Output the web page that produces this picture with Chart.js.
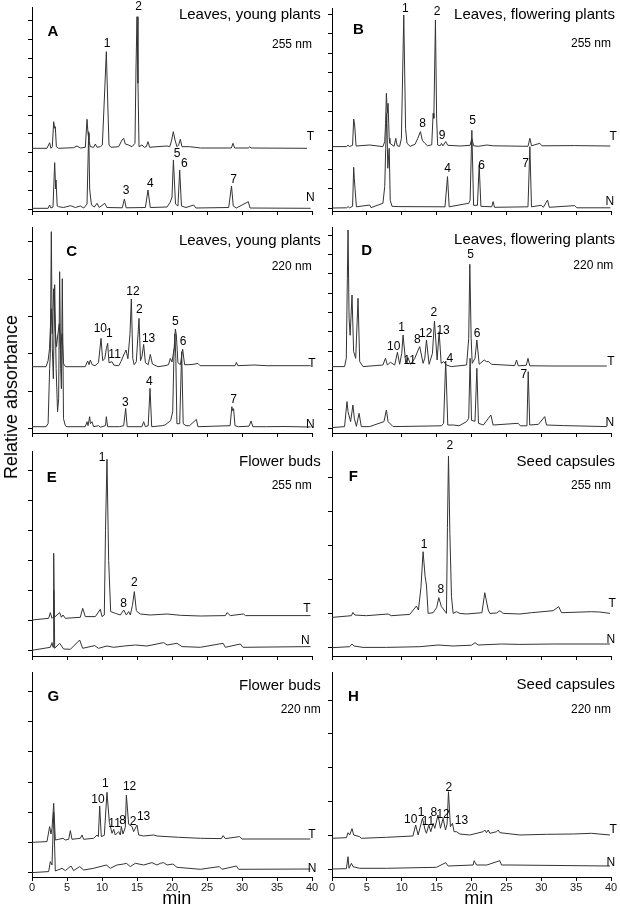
<!DOCTYPE html>
<html>
<head>
<meta charset="utf-8">
<script src="https://cdn.jsdelivr.net/npm/chart.js@4.4.1/dist/chart.umd.min.js"></script>
<style>
  html, body { margin: 0; padding: 0; background: #fff; }
  #fig { position: relative; width: 620px; height: 910px; overflow: hidden;
         font-family: "Liberation Sans", Arial, sans-serif; color: #000; }
  #fig canvas { position: absolute; }
  .txt { position: absolute; white-space: nowrap; line-height: 1; }
</style>
</head>
<body>
<div id="fig"></div>
<script>
// retention time axis (min)
const timeTicks = [0, 5, 10, 15, 20, 25, 30, 35, 40];
const timeTickLabels = ['0', '5', '10', '15', '20', '25', '30', '35', '40'];

// traces: [time (min), relative absorbance (arb. units)]
// T = treated, N = not treated

// A - leaves, young plants, 255 nm
const aT = [[0,60.7],[2.14,60.7],[2.52,66.3],[2.71,60.7],[2.9,62.3],[3.1,87.3],[3.24,80.7],[3.33,82.3],[3.48,62.3],[3.81,60.7],
  [5.95,61.3],[6.43,63],[6.9,61],[7.62,61.7],[7.86,89.7],[8.0,75.7],[8.14,69],[8.33,62.3],[8.8,61.7],[9.05,65],[9.29,61.7],
  [9.76,62.3],[10.05,64],[10.33,109],[10.62,157.3],[10.81,109],[11.0,64],[11.29,61.7],[12.38,62.3],[12.86,69],[13.1,70.7],
  [13.33,65],[13.81,64],[14.29,62.3],[14.71,65.7],[14.86,142],[15.0,192.3],[15.14,125.7],[15.29,62.3],[15.71,64],[16.05,61.7],
  [16.33,62.3],[16.57,67.3],[16.81,61.7],[17.86,62.3],[19.29,63],[19.67,62.3],[19.9,67.3],[20.19,77.3],[20.43,69],[20.71,62.3],
  [20.95,64],[21.19,69.7],[21.43,62.3],[22.48,62.3],[23.29,61.7],[24.05,61],[28.48,61],[28.71,65.7],[28.95,61],[30.95,61],
  [31.1,62.3],[31.29,61],[39.29,60.7]];
const aN = [[0,0.7],[2.3,0.7],[2.52,4],[2.7,1],[3.0,2],[3.24,46.3],[3.38,20],[3.43,29],[3.6,3],[3.81,2.3],[4.5,1.5],[5.5,3.3],
  [6.2,1.5],[6.9,3],[7.4,1],[7.86,5],[8.1,77.3],[8.24,20],[8.33,14],[8.5,4],[8.9,2],[9.3,5.7],[9.6,1.5],[10.4,5.7],[10.7,1.5],
  [12.9,1.2],[13.2,10],[13.45,1.2],[16.2,1.5],[16.57,19],[16.9,1.5],[19.3,2],[19.76,7],[20.0,12],[20.2,49],[20.5,5],[20.85,3],
  [21.1,39],[21.35,3],[22.0,1.5],[23.1,4],[23.4,1],[28.1,1.5],[28.5,23],[28.75,3],[29.2,1],[30.9,7.3],[31.15,1],[39.8,0.7]];
const aLabels = [['1',10.71,165.7],['2',15.23,202.3],['3',13.43,18.3],['4',16.9,25.7],['5',20.71,55],['6',21.76,45.7],
  ['7',28.8,29],['T',39.76,72.3],['N',39.76,11.7]];

// B - leaves, flowering plants, 255 nm
const bT = [[0.1,61.7],[2.1,61.7],[2.3,63.3],[2.5,61.7],[2.95,63],[3.11,89.3],[3.25,83.3],[3.45,62.3],[5.4,63.3],[7.3,61.7],
  [7.56,66.7],[7.68,85],[7.8,115],[7.92,95],[8.04,105],[8.2,70],[8.3,65],[8.9,62],[9.14,70],[9.35,62.5],[9.7,62],[9.95,70],
  [10.29,193.3],[10.55,80],[10.75,65],[11.2,62],[11.9,64],[12.3,70],[12.68,76.7],[12.95,68],[13.3,65],[13.7,62.5],[14.3,63.5],
  [14.5,95],[14.6,90],[14.83,188.3],[15.0,90],[15.15,63.3],[15.5,62.5],[15.7,65],[15.9,62.5],[16.3,66.7],[16.6,63],[18.4,62.3],
  [19.8,63],[20.05,70],[20.3,62.5],[21.0,62],[22.2,63.3],[23.1,62.5],[28.1,62],[28.37,70],[28.6,62.5],[29.8,65],[30.1,62.5],
  [34.8,62.7],[39.9,62.3]];
const bN = [[0.1,0.3],[2.1,0.5],[2.3,1.7],[2.5,0.5],[2.95,2],[3.11,41],[3.2,30],[3.3,20],[3.5,1.5],[5.4,3.3],[5.6,0.7],[7.3,5],
  [7.56,21.7],[7.7,60],[7.85,95],[8.0,40],[8.2,60],[8.35,8],[8.6,2],[9.5,1.7],[16.2,1.5],[16.56,31.7],[16.8,1.5],[19.6,5],
  [19.8,8],[20.05,78],[20.3,3],[20.85,3],[21.1,43.3],[21.35,2],[22.9,1.5],[23.1,6.7],[23.3,1],[28.1,1.5],[28.37,61.7],[28.6,1.5],
  [30.0,3],[30.3,1],[30.9,8.3],[31.15,1],[34.8,2.7],[35.1,0.5],[39.9,0.5]];
const bLabels = [['1',10.53,200],['2',15.06,196.6],['8',12.97,84.3],['9',15.78,72.6],['5',20.14,87.3],['4',16.56,39.3],
  ['6',21.43,42.6],['7',27.75,45],['T',40.3,71.6],['N',39.84,6.6]];

// C - leaves, young plants, 220 nm
const cT = [[0,62],[2.0,62],[2.3,68],[2.5,80],[2.62,100],[2.76,120],[2.9,95],[3.1,140],[3.3,100],[3.5,82],[3.7,95],[3.9,105],
  [4.05,80],[4.3,95],[4.5,65],[4.8,62],[7.6,62],[7.95,67.7],[8.15,64],[8.33,68.7],[8.6,64],[9.0,63],[9.5,66],[9.86,90.3],
  [10.1,68],[10.4,70],[10.62,80],[10.81,85.3],[11.0,66],[11.43,67],[11.7,63.5],[12.4,63],[12.7,67],[13.1,73.7],[13.43,78.7],
  [13.7,70],[14.0,95],[14.19,129.7],[14.4,70],[14.6,64],[14.9,67],[15.29,110.3],[15.5,68],[15.7,72],[15.95,84.3],[16.2,66],
  [16.6,64],[16.9,74.3],[17.2,64.7],[18.0,62],[19.0,63],[19.5,64],[19.76,70.3],[20.0,66.7],[20.3,80],[20.48,99.7],[20.62,93.7],
  [20.85,66],[21.2,64],[21.52,79.7],[21.8,64],[22.3,64],[23.0,64.3],[23.7,65.3],[24.0,63],[29.0,63],[29.2,66.3],[29.4,63],
  [31.7,63.7],[33.6,63],[39.8,63]];
const cN = [[0,2],[2.0,2],[2.3,5],[2.52,60],[2.62,75],[2.76,197],[2.9,80],[3.05,50],[3.24,144],[3.45,60],[3.65,17],[3.81,30],
  [3.95,157],[4.1,60],[4.2,40],[4.33,150],[4.5,10],[4.76,3],[5.0,2],[7.6,2],[7.86,7],[8.0,3],[8.24,12],[8.35,5],[8.57,7],
  [8.8,2],[9.5,3],[9.76,1.5],[10.5,3],[10.62,12],[10.8,2],[12.5,2],[13.1,3],[13.38,20.3],[13.6,2],[15.7,2],[15.95,7],[16.2,2],
  [16.6,3],[16.86,40.3],[17.1,2],[18.6,3],[19.0,3.7],[19.8,8],[20.1,17],[20.3,80],[20.4,95],[20.55,70],[20.7,5],[21.1,5],
  [21.38,77],[21.6,5],[22.0,3],[22.5,3],[23.48,9.3],[23.7,2],[28.3,3],[28.55,22],[28.67,18],[28.8,20],[29.0,3],[29.5,2],
  [31.0,2.5],[31.3,7.7],[31.55,2],[33.5,2],[36,2.2],[39.8,1.7]];
const cLabels = [['12',14.43,137],['2',15.33,118.7],['10',9.76,99.7],['1',11.04,94.7],['13',16.66,89.7],['11',11.8,73.7],
  ['5',20.47,107],['6',21.57,87],['4',16.76,47],['3',13.33,26.4],['7',28.8,29.4],['T',40,65.4],['N',39.76,4.4]];

// D - leaves, flowering plants, 220 nm
const dT = [[0,61.7],[1.8,61.7],[2.05,70],[2.2,150],[2.3,198.3],[2.45,110],[2.6,93],[2.87,133.3],[3.1,76.7],[3.4,70],
  [3.73,130],[3.97,66.7],[4.45,61.7],[7.3,63.3],[7.66,70],[7.94,63.3],[8.37,66],[8.99,63.3],[9.38,76],[9.7,64],[10.0,75],
  [10.19,93.3],[10.57,65],[10.9,70.7],[11.25,64],[11.87,70],[12.35,78.3],[12.58,81.7],[13.06,65],[13.3,70],[13.54,88.3],
  [13.92,64],[14.4,75],[14.69,107.3],[15.07,68.3],[15.36,96.7],[15.65,65],[16.03,66.7],[16.4,63.3],[17.1,61.7],[19.3,63.3],
  [19.6,90],[19.76,164],[19.95,90],[20.1,65],[20.5,70],[20.77,88.3],[21.1,64],[21.82,68.3],[22.15,66.7],[22.49,66.7],
  [22.87,64],[26.2,62.7],[26.46,68.3],[26.7,62.5],[27.85,63],[28.1,70],[28.35,62.5],[31.7,62.3],[39.4,62.3]];
const dN = [[0,0.7],[1.8,1.7],[2.15,26.7],[2.3,16.7],[2.67,6.7],[3.0,23.3],[3.2,10],[3.5,2],[3.88,15],[4.2,1.7],[5.4,1.7],
  [7.45,6.7],[7.8,18.3],[8.04,6.7],[8.75,1.7],[15.7,2.5],[16.0,5],[16.3,67.3],[16.6,3.3],[17.4,3.3],[18.2,2.5],[19.3,6.7],
  [19.6,10],[19.8,70],[20.0,8],[20.5,7],[20.77,60],[21.0,5],[21.7,3.3],[22.78,13.3],[23.1,3.3],[26.7,5],[27.0,2.5],
  [27.95,2.5],[28.13,56.7],[28.35,3.3],[29.6,4],[30.5,11.7],[30.75,3.3],[33.2,2.7],[39.4,1.7]];
const dLabels = [['5',19.86,173.3],['2',14.59,116],['1',9.96,100.6],['13',15.93,98],['12',13.44,95],['8',12.25,88.3],
  ['10',8.85,81.6],['6',20.8,95],['11',11.15,67.3],['4',16.89,70],['7',27.5,53.3],['T',39.99,66.6],['N',39.84,6]];

// E - flower buds, 255 nm
const eT = [[0,30.3],[2.38,32],[2.62,37.7],[2.86,32],[3.0,33],[3.1,60],[3.2,33],[3.95,37.7],[4.2,33],[4.43,35.3],[4.76,32],
  [6.9,33],[7.24,42],[7.62,33.7],[9.05,33.7],[9.76,41],[10.0,33.7],[10.33,35.3],[10.5,120],[10.71,191],[10.95,90],[11.24,38.7],
  [11.9,37],[12.62,35.3],[13.1,40.3],[13.48,35.3],[13.81,38.7],[14.05,35.3],[14.35,45],[14.62,58.7],[14.9,40],[15.0,38.7],
  [15.48,36.3],[16.9,35.3],[19.3,36.3],[21.2,35],[24.05,34.3],[27.62,34.7],[27.86,37.7],[28.33,34.7],[30.2,36.3],[30.5,34.7],
  [39.8,34.7]];
const eN = [[0,0],[2.62,3],[2.86,7.7],[3.0,3],[3.1,97],[3.24,2],[3.95,7],[4.52,1.3],[5.48,1],[6.81,10.3],[7.24,2],[8.95,4.7],
  [9.5,2],[10.71,4.3],[11.67,3],[13.19,4.3],[14.76,5.3],[16.43,4.3],[18.81,7.7],[19.29,5.3],[20.71,7],[21.43,3.7],[24.05,3],
  [27.3,7],[27.62,3],[29.76,6.3],[30.14,3],[39.8,3.7]];
const eLabels = [['1',10,193],['2',14.61,67.6],['8',13.09,47],['T',39.29,42],['N',39.04,9.6]];

// F - seed capsules, 255 nm
const fT = [[0,30.3],[2.78,32],[3.0,35.3],[3.25,32.7],[4.93,32],[8.04,33.7],[8.5,32],[11.15,33.3],[12.1,41.7],[12.39,37.7],
  [12.75,60],[13.06,96],[13.35,71],[13.54,62.7],[13.78,34.3],[14.5,35],[15.0,40],[15.31,50],[15.69,41],[16.17,36.7],
  [16.41,34.3],[16.55,120],[16.7,191.7],[16.9,114],[17.13,51],[17.37,34.3],[17.85,36],[18.33,34.3],[19.28,33.7],[21.5,35],
  [21.9,55],[22.4,37.7],[22.63,34.3],[23.6,34.7],[24.07,37],[24.55,34.3],[26.94,33.7],[28.6,35],[31.7,37],[32.5,41],[32.9,35],
  [37.2,36],[38.4,35.7],[39.86,34.3]];
const fN = [[0,0],[2.53,1],[2.87,3.7],[3.16,1.7],[4.45,0.3],[7.8,0.3],[12.6,1],[15.2,2.7],[17.37,1.7],[20.0,2.5],[20.5,5],
  [20.96,2.7],[24.3,3.7],[26.94,3.3],[31.7,3.7],[39.86,3.7]];
const fLabels = [['2',16.88,201.7],['1',13.2,102.7],['8',15.6,57.7],['T',40.17,43.7],['N',39.99,7.7]];

// G - flower buds, 220 nm
const gT = [[0,30],[2.14,30.7],[2.52,45.7],[2.71,38.3],[2.86,44],[3.1,69],[3.33,32.3],[3.81,33],[4.43,34],[4.76,32.3],
  [5.24,33],[5.48,41.7],[5.71,33],[6.9,34],[7.14,37.3],[7.38,33],[8.8,34],[9.29,37.3],[9.48,35.7],[9.67,66.3],[9.9,35.7],
  [10.33,37],[10.71,80],[11.05,50],[11.2,45.7],[11.43,39],[11.67,43],[11.9,37.3],[12.38,40.7],[12.62,37.3],[12.76,45.7],
  [13.0,38.3],[13.33,45],[13.48,77.3],[13.81,48],[14.29,45.7],[14.52,40.7],[15.0,47.3],[15.24,37.3],[15.95,36.3],[17.38,37.3],
  [17.86,36.3],[19.29,35.7],[20.95,35],[24.05,34],[27.05,33.7],[27.3,36.7],[27.62,33.7],[29.67,35.7],[30.0,33.3],[39.76,33.3]];
const gN = [[0,-0.3],[2.38,0.7],[2.62,10.7],[2.86,7.3],[3.1,60],[3.33,1.3],[4.29,4],[4.76,1.7],[5.57,6.3],[5.95,1.7],[6.81,5.7],
  [7.38,2.3],[8.81,4],[10.62,7.3],[11.19,4],[12.14,7.3],[13.1,8.3],[13.48,9],[14.05,5.7],[14.76,9],[15.95,7.3],[17.14,9.7],
  [17.86,7.3],[18.33,9],[18.81,9.7],[19.29,7.3],[20.14,8.3],[20.71,5],[24.05,3],[26.76,5.7],[27.14,3],[29.2,6.3],[29.52,3],
  [39.76,3.3]];
const gLabels = [['1',10.47,88.3],['10',9.43,72.3],['12',13.94,85.6],['11',11.8,48.3],['8',12.94,51.6],['2',14.43,50.6],
  ['13',15.94,55.6],['T',40,37.3],['N',40,4]];

// H - seed capsules, 220 nm
const hT = [[0,30.7],[2.06,31.3],[2.3,36.3],[2.54,34],[2.87,40.3],[3.11,34],[3.97,32.3],[4.21,30.7],[7.8,31.7],[11.6,33],
  [12.0,44],[12.35,34],[12.97,50.7],[13.35,39],[13.54,35.7],[13.88,44],[14.16,37.3],[14.5,45.7],[14.74,40.7],[15.2,54],
  [15.55,40.7],[15.93,50.7],[16.27,39],[16.5,45],[16.7,77.3],[16.98,42.3],[17.27,45.7],[17.5,37.3],[17.85,37.3],[18.33,35],
  [19.76,34],[21.67,37.3],[21.9,39],[22.15,36.3],[22.39,39],[22.63,35.7],[23.6,37.3],[23.83,39],[24.07,36.3],[26.94,34],
  [30.76,34.7],[34.6,35],[37.2,35.7],[39.86,34]];
const hN = [[0,0],[2.06,0.3],[2.3,12.3],[2.44,0.7],[2.78,5.7],[3.02,2.3],[3.97,0.7],[7.8,0.7],[14.98,1.7],[16.3,6.3],
  [16.65,3],[20.24,4],[20.38,8.3],[20.72,4],[22.2,4],[24.07,8.3],[24.3,4],[25.5,4],[39.86,3]];
const hLabels = [['2',16.74,81.7],['10',11.29,49],['1',12.77,56.7],['8',14.59,56.7],['12',15.93,54],['11',13.77,47.3],
  ['13',18.57,48],['T',40.3,39],['N',39.99,6.3]];

// ---------- layout ----------
const rowTop = [0, 222, 436, 668];
const rowH = [222, 224, 232, 242];
const colLeft = [0, 322];
const colW = [321, 298];
const plotLeft = [32, 10];   // in canvas px
const plotRight = [312, 289];
const Y_AXIS_W = 5, TICK_LEN = 4;

const panels = [
  { col:0,row:0, top:7,   bottom:211, yMin:-2,   yMax:202,   yStep:18.8, yCount:11, T:aT, N:aN, labels:aLabels,
    letter:'A', letterXY:[53,30],    title:'Leaves, young plants',     titleXY:[320.7,13.3], nm:'255 nm', nmXY:[312,44.3] },
  { col:1,row:0, top:8,   bottom:211, yMin:-2.7, yMax:200.3, yStep:19.4, yCount:11, T:bT, N:bN, labels:bLabels,
    letter:'B', letterXY:[358.3,28.3], title:'Leaves, flowering plants', titleXY:[615,13.3],   nm:'255 nm', nmXY:[611,43.3] },
  { col:0,row:1, top:227, bottom:433, yMin:-4.3, yMax:201.7, yStep:37.4, yCount:6,  T:cT, N:cN, labels:cLabels,
    letter:'C', letterXY:[71.7,250],  title:'Leaves, young plants',     titleXY:[320.7,239],  nm:'220 nm', nmXY:[311.7,265.7] },
  { col:1,row:1, top:227, bottom:433, yMin:-4.7, yMax:201.3, yStep:19.3, yCount:11, T:dT, N:dN, labels:dLabels,
    letter:'D', letterXY:[366.7,249], title:'Leaves, flowering plants', titleXY:[615,238.3],  nm:'220 nm', nmXY:[613.3,265] },
  { col:0,row:2, top:451, bottom:656, yMin:-5.7, yMax:199.3, yStep:30,   yCount:7,  T:eT, N:eN, labels:eLabels,
    letter:'E', letterXY:[51.7,476],  title:'Flower buds',              titleXY:[320.7,460],  nm:'255 nm', nmXY:[311.7,485] },
  { col:1,row:2, top:451, bottom:656, yMin:-8.3, yMax:196.7, yStep:34,   yCount:6,  T:fT, N:fN, labels:fLabels,
    letter:'F', letterXY:[353.3,475], title:'Seed capsules',            titleXY:[615,460],    nm:'255 nm', nmXY:[611,485] },
  { col:0,row:3, top:672, bottom:877, yMin:-4.7, yMax:200.3, yStep:30.1, yCount:7,  T:gT, N:gN, labels:gLabels,
    letter:'G', letterXY:[53.3,695], title:'Flower buds',              titleXY:[320.7,684],  nm:'220 nm', nmXY:[320.7,709.3], showX:true },
  { col:1,row:3, top:672, bottom:877, yMin:-8,   yMax:197,   yStep:33.8, yCount:6,  T:hT, N:hN, labels:hLabels,
    letter:'H', letterXY:[353.3,695], title:'Seed capsules',            titleXY:[615,683.3],  nm:'220 nm', nmXY:[611,709.3], showX:true }
];

Chart.defaults.font.family = "'Liberation Sans', Arial, sans-serif";
Chart.defaults.color = '#000';

const peakLabels = {
  id: 'peakLabels',
  afterDatasetsDraw(chart, args, opts) {
    const ctx = chart.ctx, xs = chart.scales.x, ys = chart.scales.y;
    ctx.save();
    ctx.font = "12px 'Liberation Sans', Arial, sans-serif";
    ctx.fillStyle = '#000';
    ctx.textAlign = 'center';
    ctx.textBaseline = 'middle';
    (opts.items || []).forEach(([txt, t, h]) => {
      ctx.fillText(txt, xs.getPixelForValue(t), ys.getPixelForValue(h));
    });
    ctx.restore();
  }
};

const fig = document.getElementById('fig');
const xy = arr => arr.map(([x, y]) => ({ x, y }));

function addText(txt, x, y, size, opts) {
  const d = document.createElement('div');
  d.className = 'txt';
  d.textContent = txt;
  d.style.fontSize = size + 'px';
  if (opts && opts.bold) d.style.fontWeight = 'bold';
  if (opts && opts.right) {
    d.style.right = (620 - x) + 'px';
    d.style.top = (y - size / 2) + 'px';
  } else {
    d.style.left = x + 'px';
    d.style.top = y + 'px';
    d.style.transform = 'translate(-50%,-50%)' + (opts && opts.rotate ? ' rotate(-90deg)' : '');
  }
  fig.appendChild(d);
}

panels.forEach(p => {
  const cv = document.createElement('canvas');
  const w = colW[p.col], h = rowH[p.row], t0 = rowTop[p.row];
  cv.width = w; cv.height = h;
  cv.style.left = colLeft[p.col] + 'px';
  cv.style.top = t0 + 'px';
  cv.style.width = w + 'px'; cv.style.height = h + 'px';
  fig.appendChild(cv);

  const xAxisH = p.showX ? 20 : 5;
  const yTicks = [];
  for (let i = 0; i < p.yCount; i++) yTicks.push(+(i * p.yStep).toFixed(2));

  const line = { borderColor: '#333', borderWidth: 1, pointRadius: 0, tension: 0, fill: false };

  new Chart(cv, {
    type: 'line',
    data: { datasets: [
      Object.assign({ label: 'T', data: xy(p.T) }, line),
      Object.assign({ label: 'N', data: xy(p.N) }, line)
    ] },
    options: {
      responsive: false,
      animation: false,
      events: [],
      layout: { autoPadding: false, padding: {
        left: plotLeft[p.col] - Y_AXIS_W,
        right: w - plotRight[p.col],
        top: p.top - t0,
        bottom: h - (p.bottom - t0) - xAxisH
      } },
      plugins: { legend: { display: false }, tooltip: { enabled: false }, peakLabels: { items: p.labels } },
      scales: {
        x: {
          type: 'linear', min: 0, max: 40,
          afterBuildTicks: s => { s.ticks = timeTicks.map(v => ({ value: v })); },
          afterFit: s => { s.height = xAxisH; },
          ticks: { display: !!p.showX, padding: 0, font: { size: 11 }, color: '#222',
                   maxRotation: 0, autoSkip: false,
                   callback: (v, i) => timeTickLabels[i] },
          grid: { drawOnChartArea: false, drawTicks: true, tickLength: TICK_LEN, color: '#000', lineWidth: 1 },
          border: { display: true, color: '#000', width: 1 }
        },
        y: {
          type: 'linear', min: p.yMin, max: p.yMax,
          afterBuildTicks: s => { s.ticks = yTicks.map(v => ({ value: v })); },
          afterFit: s => { s.width = Y_AXIS_W; },
          ticks: { display: false },
          grid: { drawOnChartArea: false, drawTicks: true, tickLength: TICK_LEN, color: '#000', lineWidth: 1 },
          border: { display: true, color: '#000', width: 1 }
        }
      }
    },
    plugins: [peakLabels]
  });

  addText(p.letter, p.letterXY[0], p.letterXY[1], 15, { bold: true });
  addText(p.title, p.titleXY[0], p.titleXY[1], 15, { right: true });
  addText(p.nm, p.nmXY[0], p.nmXY[1], 12, { right: true });
});

addText('Relative absorbance', 11, 397, 18, { rotate: true });
addText('min', 176.8, 898.3, 18);
addText('min', 478.7, 898.3, 18);
</script>
</body>
</html>
